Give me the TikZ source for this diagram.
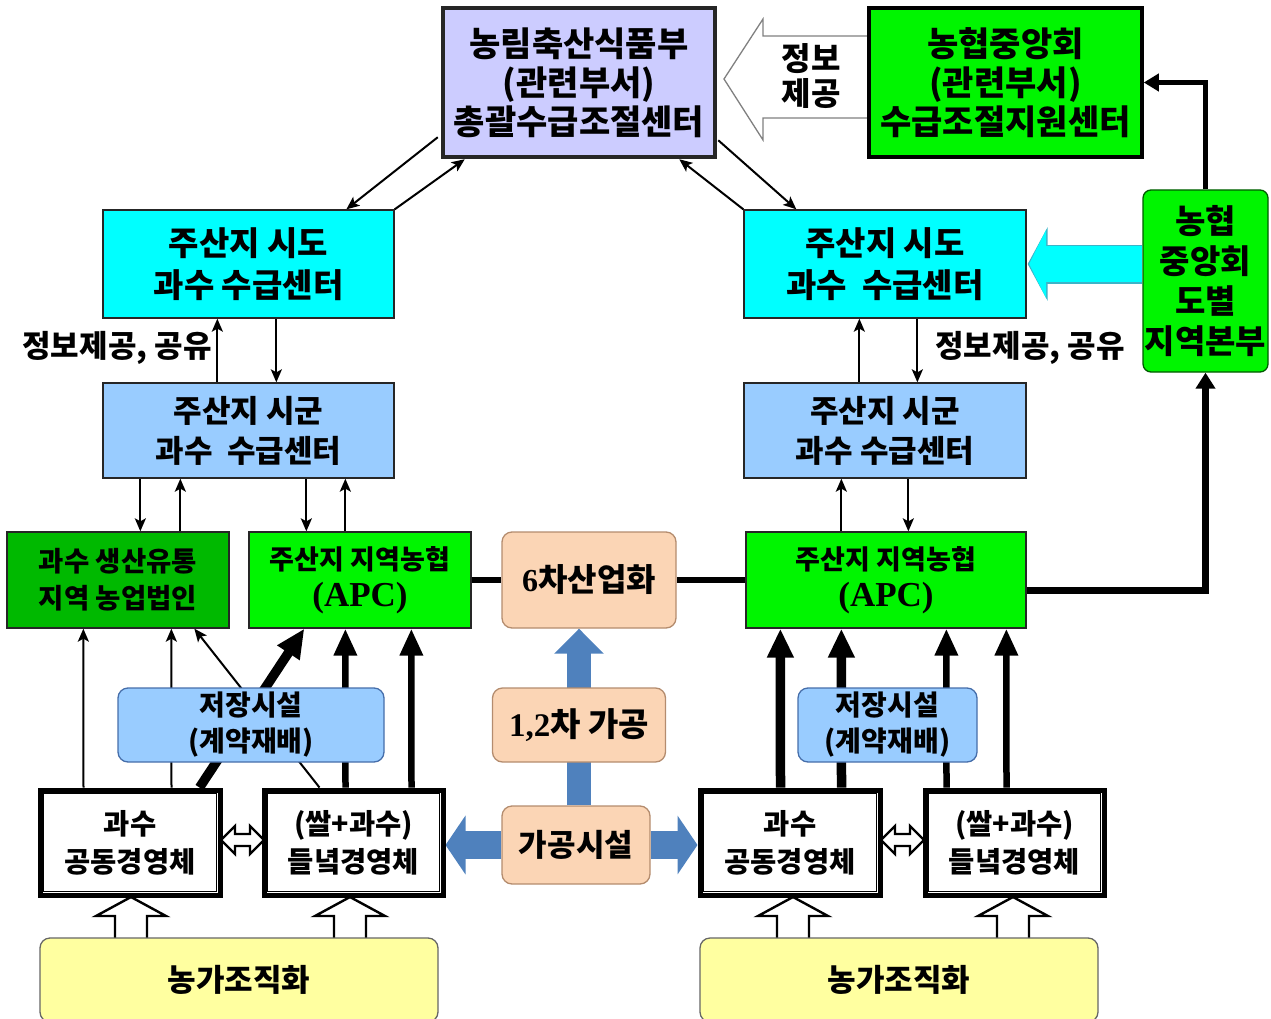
\documentclass[tikz,border=0pt]{standalone}
\usepackage{fontspec}
\setmainfont{Noto Sans CJK KR}
\newfontfamily\lat{Liberation Serif}
\usetikzlibrary{arrows.meta,calc}
\pgfdeclarelayer{bg}
\pgfsetlayers{bg,main}
\definecolor{lav}{RGB}{204,204,255}
\definecolor{grn}{RGB}{0,245,0}
\definecolor{dgrn}{RGB}{0,185,0}
\definecolor{cyn}{RGB}{0,255,255}
\definecolor{cynb}{RGB}{60,180,200}
\definecolor{lblue}{RGB}{153,204,255}
\definecolor{peach}{RGB}{251,213,181}
\definecolor{peachb}{RGB}{180,140,110}
\definecolor{ylw}{RGB}{255,255,160}
\definecolor{barrow}{RGB}{79,129,189}
\definecolor{stb}{RGB}{70,110,170}
\newcommand{\fsz}[2]{\fontsize{#1}{#2}\selectfont\bfseries}
\tikzset{
  base/.style={inner sep=0pt, align=center, text=black},
  gbox/.style={base, draw=black!85, line width=1.3pt},
  rbox/.style={gbox, rounded corners=10pt},
  dbox/.style={base, draw=black, line width=5pt, fill=white, font=\fsz{28.5}{38}},
  tharrow/.style={line width=2pt, -{Stealth[length=13pt,width=11pt,inset=3pt]}},
  thkarrow/.style={line width=6.5pt, -{Triangle[length=27pt,width=22pt]}},
  vthkarrow/.style={line width=9.5pt, -{Triangle[length=29pt,width=25pt]}},
  blkarrow/.style={line width=28pt, color=barrow, -{Triangle[length=20pt,width=58pt]}},
  outl/.style={draw=black, line width=2.4pt, fill=white, line join=miter},
}
\begin{document}
\begin{tikzpicture}[x=1pt,y=-1pt]
\useasboundingbox (0,0) rectangle (1271,1019);
% ---- top row
\node[gbox, fill=lav, line width=4.5pt, minimum width=272pt, minimum height=149pt, font=\fsz{34}{39}] (gov) at (579,82.5) {농림축산식품부\\(관련부서)\\총괄수급조절센터};
\node[gbox, fill=grn, draw=black, line width=3.5pt, minimum width=273pt, minimum height=149pt, font=\fsz{34}{39}] (nh) at (1005.5,82.5) {농협중앙회\\(관련부서)\\수급조절지원센터};
\node[base, font=\fsz{32}{35}] (info2) at (811,76) {정보\\제공};
% ---- 시도
\node[gbox, fill=cyn, minimum width=291pt, minimum height=108pt, font=\fsz{33}{42}] (cyL) at (248.5,264) {주산지 시도\\과수 수급센터};
\node[gbox, fill=cyn, minimum width=282pt, minimum height=108pt, font=\fsz{33}{42}] (cyR) at (885,264) {주산지 시도\\과수\ \ 수급센터};
\node[rbox, rounded corners=8pt, draw=green!35!black, fill=grn, minimum width=125pt, minimum height=182pt, font=\fsz{33}{40}] (reg) at (1205.5,281) {농협\\중앙회\\도별\\지역본부};
\node[base, font=\fsz{31}{32}] (infoL) at (117,348) {정보제공, 공유};
\node[base, font=\fsz{31}{32}] (infoR) at (1030,348) {정보제공, 공유};
% ---- 시군
\node[gbox, fill=lblue, minimum width=291pt, minimum height=95pt, font=\fsz{31}{40}] (sgL) at (248.5,430.5) {주산지 시군\\과수\ \ 수급센터};
\node[gbox, fill=lblue, minimum width=282pt, minimum height=95pt, font=\fsz{31}{40}] (sgR) at (885,430.5) {주산지 시군\\과수 수급센터};
% ---- APC row
\node[gbox, fill=dgrn, minimum width=222pt, minimum height=96pt, font=\fsz{27.5}{37}] (corp) at (118,580) {과수 생산유통\\지역 농업법인};
\node[gbox, fill=grn, minimum width=222pt, minimum height=96pt, font=\fsz{27}{37}] (apcL) at (360,580) {주산지 지역농협\\{\lat\fontsize{35}{37}\selectfont\bfseries (APC)}};
\node[rbox, draw=peachb, fill=peach, minimum width=174pt, minimum height=96pt, font=\fsz{32}{35}] (six) at (589,580) {{\lat 6}차산업화};
\node[gbox, fill=grn, minimum width=280pt, minimum height=96pt, font=\fsz{27}{37}] (apcR) at (886,580) {주산지 지역농협\\{\lat\fontsize{35}{37}\selectfont\bfseries (APC)}};
% ---- storage / processing
\node[rbox, draw=stb, fill=lblue, minimum width=266pt, minimum height=74pt, font=\fsz{28}{36}] (stL) at (251,725) {저장시설\\(계약재배)};
\node[rbox, draw=stb, fill=lblue, minimum width=179pt, minimum height=74pt, font=\fsz{28}{36}] (stR) at (887.5,725) {저장시설\\(계약재배)};
\node[rbox, draw=peachb, fill=peach, minimum width=173pt, minimum height=74pt, font=\fsz{33}{35}] (proc) at (579,725) {{\lat 1,2}차 가공};
\node[rbox, draw=peachb, fill=peach, minimum width=148pt, minimum height=78pt, font=\fsz{31}{35}] (fac) at (576,845) {가공시설};
% ---- 경영체
\node[dbox, minimum width=180pt, minimum height=105pt] (frL) at (130,842.5) {과수\\공동경영체};
\node[dbox, minimum width=179pt, minimum height=105pt] (fdL) at (353.5,842.5) {(쌀+과수)\\들녘경영체};
\node[dbox, minimum width=180pt, minimum height=105pt] (frR) at (790,842.5) {과수\\공동경영체};
\node[dbox, minimum width=179pt, minimum height=105pt] (fdR) at (1014.5,842.5) {(쌀+과수)\\들녘경영체};
\foreach \n in {frL,fdL,frR,fdR}
  \draw[line width=1.5pt] ([shift={(6pt,-6pt)}]\n.north west) rectangle ([shift={(-6pt,6pt)}]\n.south east);
% ---- 농가조직화
\node[rbox, draw=black!60, fill=ylw, minimum width=398pt, minimum height=84pt, font=\fsz{31}{35}] (fmL) at (239,980) {농가조직화};
\node[rbox, draw=black!60, fill=ylw, minimum width=398pt, minimum height=84pt, font=\fsz{31}{35}] (fmR) at (899,980) {농가조직화};

\begin{pgfonlayer}{bg}
% info arrow (outline, pointing left)
\draw[draw=gray, line width=1.3pt, fill=white, line join=miter]
  (875,36) -- (763,36) -- (763,19) -- (724,79) -- (763,140) -- (763,118) -- (875,118);
% cyan block arrow
\draw[cynb, line width=39pt, -{Triangle[length=20pt,width=73pt]}] (reg.west |- cyR.east) -- ([xshift=1pt]cyR.east);
\draw[cyn, line width=36pt, -{Triangle[length=17pt,width=68pt]}] (reg.west |- cyR.east) -- ([xshift=2.5pt]cyR.east);
% top diagonals
\draw[tharrow] ([xshift=-3pt,yshift=22pt]gov.south west) -- ([xshift=244pt]cyL.north west);
\draw[tharrow] (cyL.north east) -- ([xshift=24pt]gov.south west);
\draw[tharrow] ([xshift=1pt,yshift=19pt]gov.south east) -- ([xshift=53pt]cyR.north west);
\draw[tharrow] (cyR.north west) -- ([xshift=-38pt]gov.south east);
% 시도 <-> 시군
\draw[tharrow] ([xshift=115pt]sgL.north west) -- ([xshift=115pt]cyL.south west);
\draw[tharrow] ([xshift=174pt]cyL.south west) -- ([xshift=174pt]sgL.north west);
\draw[tharrow] ([xshift=116pt]sgR.north west) -- ([xshift=116pt]cyR.south west);
\draw[tharrow] ([xshift=174pt]cyR.south west) -- ([xshift=174pt]sgR.north west);
% 시군 <-> APC row
\draw[tharrow] ([xshift=38pt]sgL.south west) -- ([xshift=134pt]corp.north west);
\draw[tharrow] ([xshift=174pt]corp.north west) -- ([xshift=78pt]sgL.south west);
\draw[tharrow] ([xshift=204pt]sgL.south west) -- ([xshift=58pt]apcL.north west);
\draw[tharrow] ([xshift=97pt]apcL.north west) -- ([xshift=243pt]sgL.south west);
\draw[tharrow] ([xshift=96pt]apcR.north west) -- ([xshift=98pt]sgR.south west);
\draw[tharrow] ([xshift=165pt]sgR.south west) -- ([xshift=163pt]apcR.north west);
% thick links
\draw[line width=6pt] (apcL.east) -- (six.west);
\draw[line width=6pt] (six.east) -- (apcR.west);
\draw[line width=7pt, -{Triangle[length=16pt,width=19pt]}] ([yshift=-10pt]apcR.east) -| (reg.south);
\draw[line width=5pt, -{Triangle[length=15pt,width=17pt]}] (reg.north) |- (nh.east);
% bottom left arrows
\draw[tharrow] ([xshift=46pt]frL.north west) -- ([xshift=77pt]corp.south west);
\draw[tharrow] ([xshift=134pt]frL.north west) -- ([xshift=165pt]corp.south west);
\draw[tharrow] ([xshift=58pt]fdL.north west) -- ([xshift=188pt]corp.south west);
\draw[vthkarrow] ([xshift=162pt]frL.north west) -- ([xshift=56pt]apcL.south west);
\draw[thkarrow] ([xshift=84pt]fdL.north west) -- ([xshift=97pt]apcL.south west);
\draw[thkarrow] ([xshift=150pt]fdL.north west) -- ([xshift=163pt]apcL.south west);
% bottom right arrows
\draw[vthkarrow] ([xshift=83pt]frR.north west) -- ([xshift=35pt]apcR.south west);
\draw[vthkarrow] ([xshift=144pt]frR.north west) -- ([xshift=96pt]apcR.south west);
\draw[thkarrow] ([xshift=24pt]fdR.north west) -- ([xshift=201pt]apcR.south west);
\draw[thkarrow] ([xshift=84pt]fdR.north west) -- ([xshift=261pt]apcR.south west);
% blue block arrows
\draw[blkarrow] (fac.west) -- (fdL.east |- fac.west);
\draw[blkarrow] (fac.east) -- (frR.west |- fac.east);
\draw[barrow, line width=24pt, -{Triangle[length=25pt,width=48pt]}] ([xshift=3pt]fac.north) -- ([xshift=3pt]fac.north |- six.south);
% double outline arrows
\foreach \dx in {0,660}{
  \begin{scope}[xshift=\dx]
  \draw[outl] (221,840) -- (235,826) -- (235,834) -- (250,834) -- (250,826) -- (264,840) -- (250,854) -- (250,846) -- (235,846) -- (235,854) -- cycle;
  \end{scope}}
% up outline arrows from 농가조직화
\foreach \c in {131,350,793,1013}{
  \draw[outl] (\c-16,942) -- (\c-16,916) -- (\c-35,916) -- (\c,897) -- (\c+35,916) -- (\c+16,916) -- (\c+16,942);}
\end{pgfonlayer}
\end{tikzpicture}
\end{document}
